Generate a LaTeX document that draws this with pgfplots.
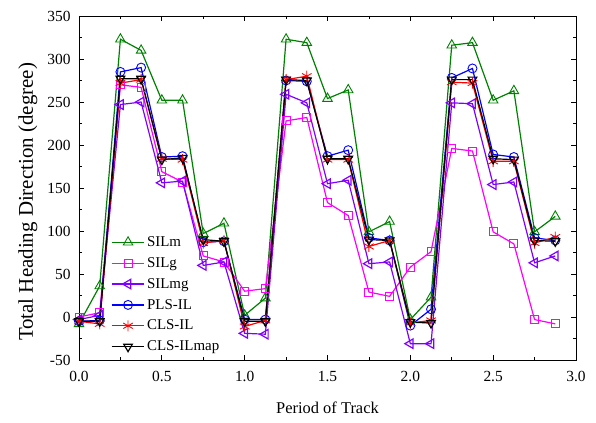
\documentclass[border=0pt]{standalone}
\usepackage{pgfplots}
\pgfplotsset{compat=1.18}
\usepackage{pgfplotstable}
\usepackage{fontspec}
\setmainfont{Liberation Serif}
\definecolor{cgreen}{RGB}{0,128,0}
\definecolor{cmag}{RGB}{255,0,255}
\definecolor{cviol}{RGB}{128,0,255}
\pgfplotstableread{
x SILm SILg SILmg PLS CLS MAP
0 -8 0 -3 -5 -5 -5
0.125 36 5 2 -4 -8 -5
0.25 323 270 247 285 272 277
0.375 310 267 250 290 276 277
0.5 252 169 156 186 184 183
0.625 252 157 158 187 183 185
0.75 97 71 60 87 86 90
0.875 109 64 64 88 89 88
1.0 2 30 -19 -3 -11 -5
1.125 22 33 -20 -3 -4 -5
1.25 323 228 259 275 276 276
1.375 319 232 249 274 280 275
1.5 254 133 155 187 183 184
1.625 264 118 159 194 183 184
1.75 99 29 62 92 82 90
1.875 111 24 64 89 89 89
2.0 -3 58 -31 -10 -7 -6
2.125 23 76 -31 9 -4 -7
2.25 316 196 249 278 273 276
2.375 319 193 248 289 272 276
2.5 252 99 154 189 181 184
2.625 263 85 157 186 181 183
2.75 99 -3 63 92 86 89
2.875 117 -8 71 89 93 88
}\datatable
\begin{document}
\begin{tikzpicture}
\useasboundingbox (-79bp,-63bp) rectangle (517bp,360bp);
\begin{axis}[
  at={(0,0)}, anchor=south west,
  scale only axis, width=497bp, height=344bp,
  xmin=0, xmax=3, ymin=-50, ymax=350,
  xtick={0,0.5,...,3}, ytick={-50,0,...,350},
  minor x tick num=1, minor y tick num=1,
  /pgf/number format/assume math mode=true,
  tick align=inside, tick pos=both,
  major tick length=5bp, minor tick length=3bp,
  tick style={black, line width=0.8pt},
  axis line style={line width=0.9pt},
  ticklabel style={font=\fontsize{15.5}{18}\selectfont},
  xticklabel style={yshift=-7.5bp, /pgf/number format/.cd, fixed, fixed zerofill, precision=1},
  yticklabel style={xshift=-5bp},
  xlabel={\fontsize{16.5}{19}\selectfont Period of Track},
  ylabel={\fontsize{21}{24}\selectfont Total Heading Direction (degree)},
  xlabel style={yshift=-14bp},
  ylabel style={yshift=3bp, xshift=-14bp},
  legend style={draw=none, fill=none, at={(0.062,0.368)}, anchor=north west,
    font=\fontsize{15}{18}\selectfont, row sep=5.5bp, inner sep=1bp},
  legend cell align=left,
  legend image code/.code={\draw[mark repeat=2,mark phase=2] plot coordinates {(0cm,0cm) (0.58cm,0cm) (1.16cm,0cm)};},
  every axis plot/.append style={line width=1.2pt, mark options={solid, line width=0.9pt, fill=none}},
]
\addplot[cgreen, mark=triangle, mark size=5.5bp] table[x=x,y=SILm]{\datatable};
\addlegendentry{SILm}
\addplot[cmag, mark=square, mark size=4bp] table[x=x,y=SILg]{\datatable};
\addlegendentry{SILg}
\addplot[cviol, mark=triangle, mark size=5.5bp, mark options={rotate=90}] table[x=x,y=SILmg]{\datatable};
\addlegendentry{SILmg}
\addplot[blue, mark=o, mark size=4.5bp] table[x=x,y=PLS]{\datatable};
\addlegendentry{PLS-IL}
\addplot[red, mark=asterisk, mark size=5.5bp] table[x=x,y=CLS]{\datatable};
\addlegendentry{CLS-IL}
\addplot[black, mark=triangle, mark size=5bp, mark options={rotate=180}] table[x=x,y=MAP]{\datatable};
\addlegendentry{CLS-ILmap}
\end{axis}
\end{tikzpicture}
\end{document}
